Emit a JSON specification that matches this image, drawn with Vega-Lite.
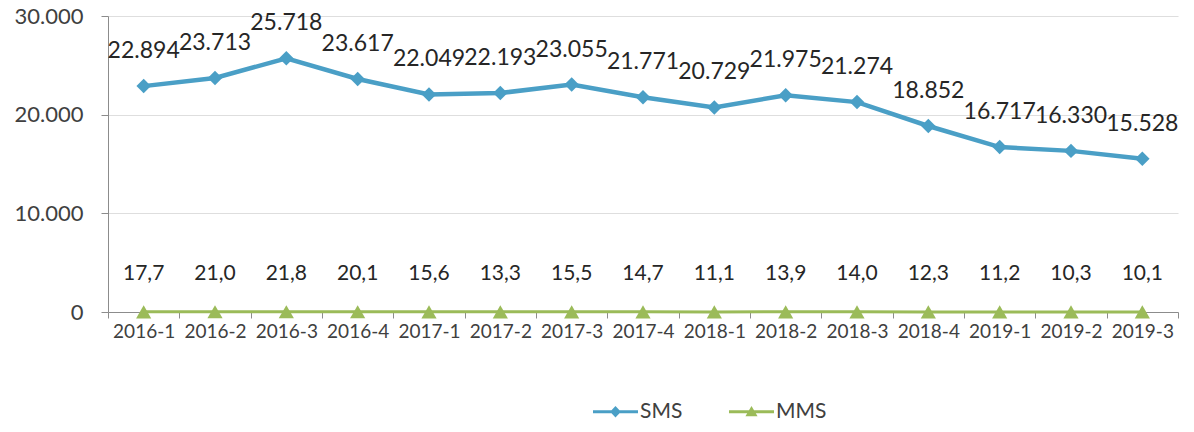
{
  "$schema": "https://vega.github.io/schema/vega-lite/v6.json",
  "autosize": "none",
  "width": 1070,
  "height": 296,
  "padding": {"left": 108, "top": 16, "right": 16, "bottom": 120},
  "config": {
    "locale": {"number": {"decimal": ",", "thousands": ".", "grouping": [3], "currency": ["", ""]}},
    "view": {"stroke": null},
    "font": "Lato"
  },
  "data": {"values": [
    {"q": "2016-1", "s": "SMS", "v": 22894}, {"q": "2016-2", "s": "SMS", "v": 23713}, {"q": "2016-3", "s": "SMS", "v": 25718},
    {"q": "2016-4", "s": "SMS", "v": 23617}, {"q": "2017-1", "s": "SMS", "v": 22049}, {"q": "2017-2", "s": "SMS", "v": 22193},
    {"q": "2017-3", "s": "SMS", "v": 23055}, {"q": "2017-4", "s": "SMS", "v": 21771}, {"q": "2018-1", "s": "SMS", "v": 20729},
    {"q": "2018-2", "s": "SMS", "v": 21975}, {"q": "2018-3", "s": "SMS", "v": 21274}, {"q": "2018-4", "s": "SMS", "v": 18852},
    {"q": "2019-1", "s": "SMS", "v": 16717}, {"q": "2019-2", "s": "SMS", "v": 16330}, {"q": "2019-3", "s": "SMS", "v": 15528},
    {"q": "2016-1", "s": "MMS", "v": 17.7}, {"q": "2016-2", "s": "MMS", "v": 21.0}, {"q": "2016-3", "s": "MMS", "v": 21.8},
    {"q": "2016-4", "s": "MMS", "v": 20.1}, {"q": "2017-1", "s": "MMS", "v": 15.6}, {"q": "2017-2", "s": "MMS", "v": 13.3},
    {"q": "2017-3", "s": "MMS", "v": 15.5}, {"q": "2017-4", "s": "MMS", "v": 14.7}, {"q": "2018-1", "s": "MMS", "v": 11.1},
    {"q": "2018-2", "s": "MMS", "v": 13.9}, {"q": "2018-3", "s": "MMS", "v": 14.0}, {"q": "2018-4", "s": "MMS", "v": 12.3},
    {"q": "2019-1", "s": "MMS", "v": 11.2}, {"q": "2019-2", "s": "MMS", "v": 10.3}, {"q": "2019-3", "s": "MMS", "v": 10.1}
  ]},
  "encoding": {
    "x": {"field": "q", "type": "ordinal", "sort": null,
      "scale": {"type": "band", "paddingInner": 0, "paddingOuter": 0},
      "axis": {"title": null, "labelAngle": 0, "labelFontSize": 19, "labelColor": "#404040", "labelPadding": 4,
        "domainColor": "#8c8c8c", "tickColor": "#8c8c8c", "tickSize": 6, "tickBand": "extent", "grid": false}},
    "y": {"field": "v", "type": "quantitative",
      "scale": {"domain": [0, 30000], "nice": false},
      "axis": {"title": null, "values": [0, 10000, 20000, 30000], "format": ",d", "labelFontSize": 22, "labelColor": "#404040",
        "labelPadding": 18, "domainColor": "#8c8c8c", "tickColor": "#8c8c8c", "tickSize": 7, "gridColor": "#dedede", "gridWidth": 1.2}},
    "color": {"field": "s", "type": "nominal", "sort": ["SMS", "MMS"],
      "scale": {"domain": ["SMS", "MMS"], "range": ["#4a9fc6", "#9bbb59"]},
      "legend": {"title": null, "orient": "none", "legendX": 485, "legendY": 373, "direction": "horizontal",
        "labelFontSize": 21, "labelColor": "#404040",
        "symbolType": "M-1,-0.07L1,-0.07L1,0.07L-1,0.07Z M0,-0.26L0.24,0L0,0.26L-0.24,0Z",
        "symbolSize": 2025, "symbolStrokeWidth": 0, "columnPadding": 46, "labelOffset": 2,
        "encode": {"symbols": {"update": {
          "size": {"value": 2025},
          "shape": {"signal": "datum.value == 'SMS' ? 'M-1,-0.07L1,-0.07L1,0.07L-1,0.07Z M0,-0.26L0.24,0L0,0.26L-0.24,0Z' : 'M-1,-0.07L1,-0.07L1,0.07L-1,0.07Z M0,-0.26L0.27,0.2L-0.27,0.2Z'"}}}}}}
  },
  "layer": [
    {"mark": {"type": "line"}, "encoding": {"strokeWidth": {"condition": {"test": "datum.s == 'SMS'", "value": 4.5}, "value": 3}}},
    {"transform": [{"filter": "datum.s == 'SMS'"}],
      "mark": {"type": "point", "filled": true, "opacity": 1, "size": 210, "shape": "diamond"}},
    {"transform": [{"filter": "datum.s == 'MMS'"}],
      "mark": {"type": "point", "filled": true, "opacity": 1, "size": 230, "shape": "triangle-up"}},
    {"transform": [{"filter": "datum.s == 'SMS'"}],
      "mark": {"type": "text", "dy": -35, "fontSize": 23, "color": "#262626"},
      "encoding": {"text": {"field": "v", "type": "quantitative", "format": ",d"}, "color": {"value": "#262626"}}},
    {"transform": [{"filter": "datum.s == 'MMS'"}],
      "mark": {"type": "text", "dy": -38, "fontSize": 21, "color": "#262626"},
      "encoding": {"text": {"field": "v", "type": "quantitative", "format": ".1f"}, "color": {"value": "#262626"}}}
  ]
}
